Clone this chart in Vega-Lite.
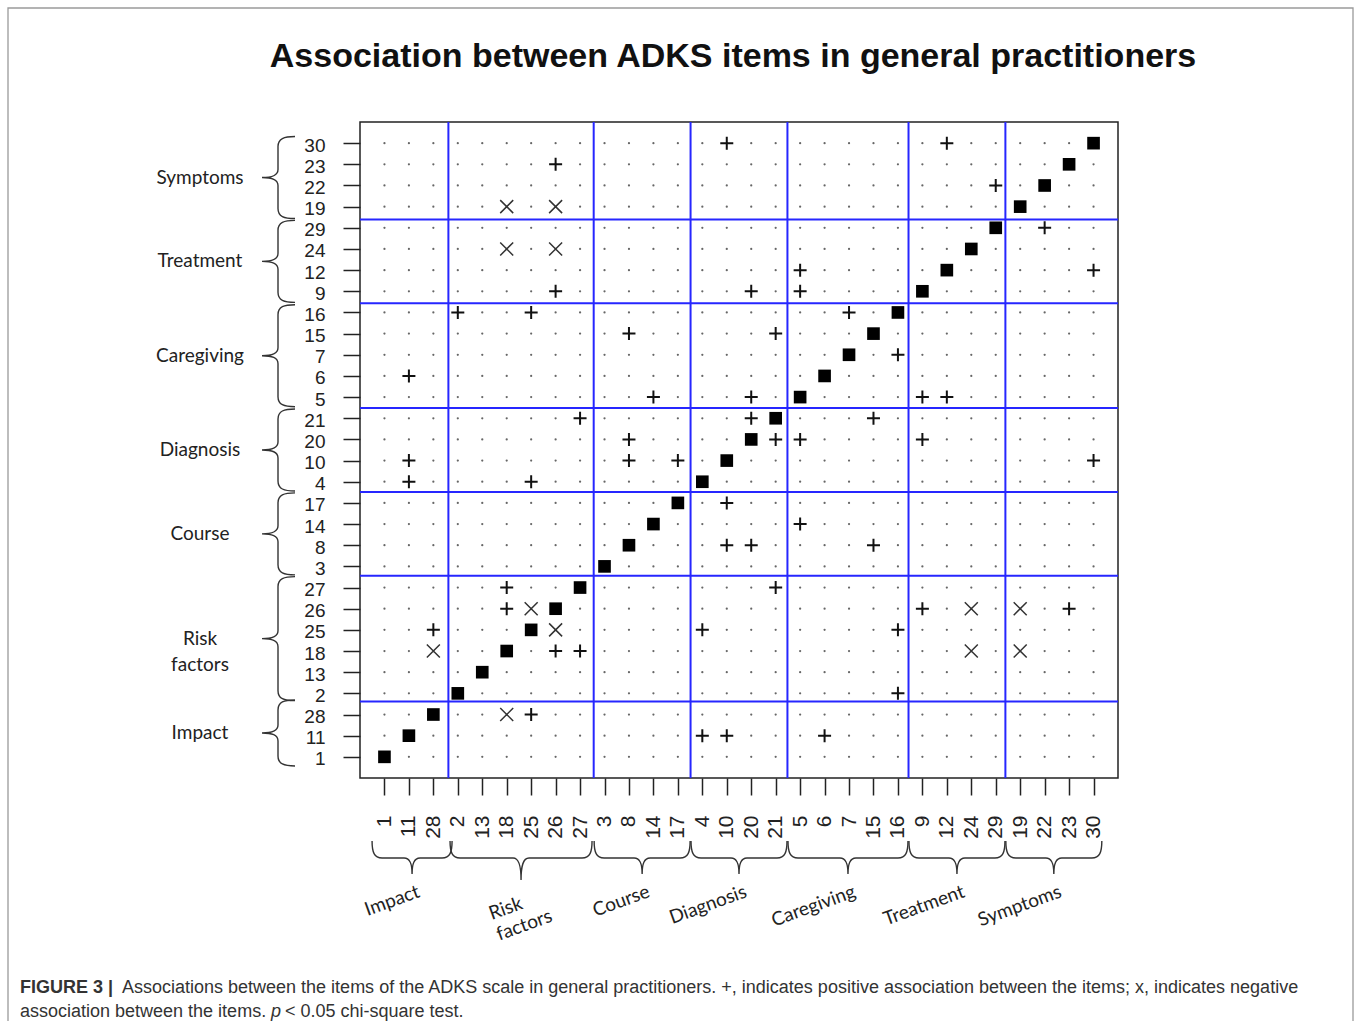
{
"$schema": "https://vega.github.io/schema/vega-lite/v6.json",
"width": 758,
"height": 656,
"autosize": {"type": "none"},
"padding": {"left": 360, "top": 122, "right": 237, "bottom": 243},
"background": "white",
"config": {"view": {"stroke": "#222", "strokeWidth": 1.5}, "axis": {"labelBound": false, "labelFlush": false}},
"datasets": {
"groups": [
{"g": "Impact", "lo": 0.5, "mid": 2},
{"g": "Risk factors", "lo": 3.5, "mid": 6.5},
{"g": "Course", "lo": 9.5, "mid": 11.5},
{"g": "Diagnosis", "lo": 13.5, "mid": 15.5},
{"g": "Caregiving", "lo": 17.5, "mid": 20},
{"g": "Treatment", "lo": 22.5, "mid": 24.5},
{"g": "Symptoms", "lo": 26.5, "mid": 28.5}
],
"marks": [
{"r":1,"c":1,"t":"d"},{"r":2,"c":2,"t":"d"},{"r":3,"c":3,"t":"d"},{"r":4,"c":4,"t":"d"},{"r":5,"c":5,"t":"d"},{"r":6,"c":6,"t":"d"},{"r":7,"c":7,"t":"d"},{"r":8,"c":8,"t":"d"},{"r":9,"c":9,"t":"d"},{"r":10,"c":10,"t":"d"},
{"r":11,"c":11,"t":"d"},{"r":12,"c":12,"t":"d"},{"r":13,"c":13,"t":"d"},{"r":14,"c":14,"t":"d"},{"r":15,"c":15,"t":"d"},{"r":16,"c":16,"t":"d"},{"r":17,"c":17,"t":"d"},{"r":18,"c":18,"t":"d"},{"r":19,"c":19,"t":"d"},{"r":20,"c":20,"t":"d"},
{"r":21,"c":21,"t":"d"},{"r":22,"c":22,"t":"d"},{"r":23,"c":23,"t":"d"},{"r":24,"c":24,"t":"d"},{"r":25,"c":25,"t":"d"},{"r":26,"c":26,"t":"d"},{"r":27,"c":27,"t":"d"},{"r":28,"c":28,"t":"d"},{"r":29,"c":29,"t":"d"},{"r":30,"c":30,"t":"d"},
{"r":30,"c":10,"t":"p"},{"r":30,"c":12,"t":"p"},
{"r":23,"c":26,"t":"p"},
{"r":22,"c":29,"t":"p"},
{"r":19,"c":18,"t":"n"},{"r":19,"c":26,"t":"n"},
{"r":29,"c":22,"t":"p"},
{"r":24,"c":18,"t":"n"},{"r":24,"c":26,"t":"n"},
{"r":12,"c":5,"t":"p"},{"r":12,"c":30,"t":"p"},
{"r":9,"c":26,"t":"p"},{"r":9,"c":20,"t":"p"},{"r":9,"c":5,"t":"p"},
{"r":16,"c":2,"t":"p"},{"r":16,"c":25,"t":"p"},{"r":16,"c":7,"t":"p"},
{"r":15,"c":8,"t":"p"},{"r":15,"c":21,"t":"p"},
{"r":7,"c":16,"t":"p"},
{"r":6,"c":11,"t":"p"},
{"r":5,"c":14,"t":"p"},{"r":5,"c":20,"t":"p"},{"r":5,"c":9,"t":"p"},{"r":5,"c":12,"t":"p"},
{"r":21,"c":27,"t":"p"},{"r":21,"c":20,"t":"p"},{"r":21,"c":15,"t":"p"},
{"r":20,"c":8,"t":"p"},{"r":20,"c":21,"t":"p"},{"r":20,"c":5,"t":"p"},{"r":20,"c":9,"t":"p"},
{"r":10,"c":11,"t":"p"},{"r":10,"c":8,"t":"p"},{"r":10,"c":17,"t":"p"},{"r":10,"c":30,"t":"p"},
{"r":4,"c":11,"t":"p"},{"r":4,"c":25,"t":"p"},
{"r":17,"c":10,"t":"p"},
{"r":14,"c":5,"t":"p"},
{"r":8,"c":10,"t":"p"},{"r":8,"c":20,"t":"p"},{"r":8,"c":15,"t":"p"},
{"r":27,"c":18,"t":"p"},{"r":27,"c":21,"t":"p"},
{"r":26,"c":18,"t":"p"},{"r":26,"c":25,"t":"n"},{"r":26,"c":9,"t":"p"},{"r":26,"c":24,"t":"n"},{"r":26,"c":19,"t":"n"},{"r":26,"c":23,"t":"p"},
{"r":25,"c":28,"t":"p"},{"r":25,"c":26,"t":"n"},{"r":25,"c":4,"t":"p"},{"r":25,"c":16,"t":"p"},
{"r":18,"c":28,"t":"n"},{"r":18,"c":26,"t":"p"},{"r":18,"c":27,"t":"p"},{"r":18,"c":24,"t":"n"},{"r":18,"c":19,"t":"n"},
{"r":2,"c":16,"t":"p"},
{"r":28,"c":18,"t":"n"},{"r":28,"c":25,"t":"p"},
{"r":11,"c":4,"t":"p"},{"r":11,"c":10,"t":"p"},{"r":11,"c":6,"t":"p"}
],
"cells": [
{"r":30,"c":1},{"r":30,"c":11},{"r":30,"c":28},{"r":30,"c":2},{"r":30,"c":13},{"r":30,"c":18},{"r":30,"c":25},{"r":30,"c":26},{"r":30,"c":27},{"r":30,"c":3},{"r":30,"c":8},{"r":30,"c":14},{"r":30,"c":17},{"r":30,"c":4},{"r":30,"c":10},{"r":30,"c":20},{"r":30,"c":21},{"r":30,"c":5},{"r":30,"c":6},{"r":30,"c":7},{"r":30,"c":15},{"r":30,"c":16},{"r":30,"c":9},{"r":30,"c":12},{"r":30,"c":24},{"r":30,"c":29},{"r":30,"c":19},{"r":30,"c":22},{"r":30,"c":23},{"r":30,"c":30},
{"r":23,"c":1},{"r":23,"c":11},{"r":23,"c":28},{"r":23,"c":2},{"r":23,"c":13},{"r":23,"c":18},{"r":23,"c":25},{"r":23,"c":26},{"r":23,"c":27},{"r":23,"c":3},{"r":23,"c":8},{"r":23,"c":14},{"r":23,"c":17},{"r":23,"c":4},{"r":23,"c":10},{"r":23,"c":20},{"r":23,"c":21},{"r":23,"c":5},{"r":23,"c":6},{"r":23,"c":7},{"r":23,"c":15},{"r":23,"c":16},{"r":23,"c":9},{"r":23,"c":12},{"r":23,"c":24},{"r":23,"c":29},{"r":23,"c":19},{"r":23,"c":22},{"r":23,"c":23},{"r":23,"c":30},
{"r":22,"c":1},{"r":22,"c":11},{"r":22,"c":28},{"r":22,"c":2},{"r":22,"c":13},{"r":22,"c":18},{"r":22,"c":25},{"r":22,"c":26},{"r":22,"c":27},{"r":22,"c":3},{"r":22,"c":8},{"r":22,"c":14},{"r":22,"c":17},{"r":22,"c":4},{"r":22,"c":10},{"r":22,"c":20},{"r":22,"c":21},{"r":22,"c":5},{"r":22,"c":6},{"r":22,"c":7},{"r":22,"c":15},{"r":22,"c":16},{"r":22,"c":9},{"r":22,"c":12},{"r":22,"c":24},{"r":22,"c":29},{"r":22,"c":19},{"r":22,"c":22},{"r":22,"c":23},{"r":22,"c":30},
{"r":19,"c":1},{"r":19,"c":11},{"r":19,"c":28},{"r":19,"c":2},{"r":19,"c":13},{"r":19,"c":18},{"r":19,"c":25},{"r":19,"c":26},{"r":19,"c":27},{"r":19,"c":3},{"r":19,"c":8},{"r":19,"c":14},{"r":19,"c":17},{"r":19,"c":4},{"r":19,"c":10},{"r":19,"c":20},{"r":19,"c":21},{"r":19,"c":5},{"r":19,"c":6},{"r":19,"c":7},{"r":19,"c":15},{"r":19,"c":16},{"r":19,"c":9},{"r":19,"c":12},{"r":19,"c":24},{"r":19,"c":29},{"r":19,"c":19},{"r":19,"c":22},{"r":19,"c":23},{"r":19,"c":30},
{"r":29,"c":1},{"r":29,"c":11},{"r":29,"c":28},{"r":29,"c":2},{"r":29,"c":13},{"r":29,"c":18},{"r":29,"c":25},{"r":29,"c":26},{"r":29,"c":27},{"r":29,"c":3},{"r":29,"c":8},{"r":29,"c":14},{"r":29,"c":17},{"r":29,"c":4},{"r":29,"c":10},{"r":29,"c":20},{"r":29,"c":21},{"r":29,"c":5},{"r":29,"c":6},{"r":29,"c":7},{"r":29,"c":15},{"r":29,"c":16},{"r":29,"c":9},{"r":29,"c":12},{"r":29,"c":24},{"r":29,"c":29},{"r":29,"c":19},{"r":29,"c":22},{"r":29,"c":23},{"r":29,"c":30},
{"r":24,"c":1},{"r":24,"c":11},{"r":24,"c":28},{"r":24,"c":2},{"r":24,"c":13},{"r":24,"c":18},{"r":24,"c":25},{"r":24,"c":26},{"r":24,"c":27},{"r":24,"c":3},{"r":24,"c":8},{"r":24,"c":14},{"r":24,"c":17},{"r":24,"c":4},{"r":24,"c":10},{"r":24,"c":20},{"r":24,"c":21},{"r":24,"c":5},{"r":24,"c":6},{"r":24,"c":7},{"r":24,"c":15},{"r":24,"c":16},{"r":24,"c":9},{"r":24,"c":12},{"r":24,"c":24},{"r":24,"c":29},{"r":24,"c":19},{"r":24,"c":22},{"r":24,"c":23},{"r":24,"c":30},
{"r":12,"c":1},{"r":12,"c":11},{"r":12,"c":28},{"r":12,"c":2},{"r":12,"c":13},{"r":12,"c":18},{"r":12,"c":25},{"r":12,"c":26},{"r":12,"c":27},{"r":12,"c":3},{"r":12,"c":8},{"r":12,"c":14},{"r":12,"c":17},{"r":12,"c":4},{"r":12,"c":10},{"r":12,"c":20},{"r":12,"c":21},{"r":12,"c":5},{"r":12,"c":6},{"r":12,"c":7},{"r":12,"c":15},{"r":12,"c":16},{"r":12,"c":9},{"r":12,"c":12},{"r":12,"c":24},{"r":12,"c":29},{"r":12,"c":19},{"r":12,"c":22},{"r":12,"c":23},{"r":12,"c":30},
{"r":9,"c":1},{"r":9,"c":11},{"r":9,"c":28},{"r":9,"c":2},{"r":9,"c":13},{"r":9,"c":18},{"r":9,"c":25},{"r":9,"c":26},{"r":9,"c":27},{"r":9,"c":3},{"r":9,"c":8},{"r":9,"c":14},{"r":9,"c":17},{"r":9,"c":4},{"r":9,"c":10},{"r":9,"c":20},{"r":9,"c":21},{"r":9,"c":5},{"r":9,"c":6},{"r":9,"c":7},{"r":9,"c":15},{"r":9,"c":16},{"r":9,"c":9},{"r":9,"c":12},{"r":9,"c":24},{"r":9,"c":29},{"r":9,"c":19},{"r":9,"c":22},{"r":9,"c":23},{"r":9,"c":30},
{"r":16,"c":1},{"r":16,"c":11},{"r":16,"c":28},{"r":16,"c":2},{"r":16,"c":13},{"r":16,"c":18},{"r":16,"c":25},{"r":16,"c":26},{"r":16,"c":27},{"r":16,"c":3},{"r":16,"c":8},{"r":16,"c":14},{"r":16,"c":17},{"r":16,"c":4},{"r":16,"c":10},{"r":16,"c":20},{"r":16,"c":21},{"r":16,"c":5},{"r":16,"c":6},{"r":16,"c":7},{"r":16,"c":15},{"r":16,"c":16},{"r":16,"c":9},{"r":16,"c":12},{"r":16,"c":24},{"r":16,"c":29},{"r":16,"c":19},{"r":16,"c":22},{"r":16,"c":23},{"r":16,"c":30},
{"r":15,"c":1},{"r":15,"c":11},{"r":15,"c":28},{"r":15,"c":2},{"r":15,"c":13},{"r":15,"c":18},{"r":15,"c":25},{"r":15,"c":26},{"r":15,"c":27},{"r":15,"c":3},{"r":15,"c":8},{"r":15,"c":14},{"r":15,"c":17},{"r":15,"c":4},{"r":15,"c":10},{"r":15,"c":20},{"r":15,"c":21},{"r":15,"c":5},{"r":15,"c":6},{"r":15,"c":7},{"r":15,"c":15},{"r":15,"c":16},{"r":15,"c":9},{"r":15,"c":12},{"r":15,"c":24},{"r":15,"c":29},{"r":15,"c":19},{"r":15,"c":22},{"r":15,"c":23},{"r":15,"c":30},
{"r":7,"c":1},{"r":7,"c":11},{"r":7,"c":28},{"r":7,"c":2},{"r":7,"c":13},{"r":7,"c":18},{"r":7,"c":25},{"r":7,"c":26},{"r":7,"c":27},{"r":7,"c":3},{"r":7,"c":8},{"r":7,"c":14},{"r":7,"c":17},{"r":7,"c":4},{"r":7,"c":10},{"r":7,"c":20},{"r":7,"c":21},{"r":7,"c":5},{"r":7,"c":6},{"r":7,"c":7},{"r":7,"c":15},{"r":7,"c":16},{"r":7,"c":9},{"r":7,"c":12},{"r":7,"c":24},{"r":7,"c":29},{"r":7,"c":19},{"r":7,"c":22},{"r":7,"c":23},{"r":7,"c":30},
{"r":6,"c":1},{"r":6,"c":11},{"r":6,"c":28},{"r":6,"c":2},{"r":6,"c":13},{"r":6,"c":18},{"r":6,"c":25},{"r":6,"c":26},{"r":6,"c":27},{"r":6,"c":3},{"r":6,"c":8},{"r":6,"c":14},{"r":6,"c":17},{"r":6,"c":4},{"r":6,"c":10},{"r":6,"c":20},{"r":6,"c":21},{"r":6,"c":5},{"r":6,"c":6},{"r":6,"c":7},{"r":6,"c":15},{"r":6,"c":16},{"r":6,"c":9},{"r":6,"c":12},{"r":6,"c":24},{"r":6,"c":29},{"r":6,"c":19},{"r":6,"c":22},{"r":6,"c":23},{"r":6,"c":30},
{"r":5,"c":1},{"r":5,"c":11},{"r":5,"c":28},{"r":5,"c":2},{"r":5,"c":13},{"r":5,"c":18},{"r":5,"c":25},{"r":5,"c":26},{"r":5,"c":27},{"r":5,"c":3},{"r":5,"c":8},{"r":5,"c":14},{"r":5,"c":17},{"r":5,"c":4},{"r":5,"c":10},{"r":5,"c":20},{"r":5,"c":21},{"r":5,"c":5},{"r":5,"c":6},{"r":5,"c":7},{"r":5,"c":15},{"r":5,"c":16},{"r":5,"c":9},{"r":5,"c":12},{"r":5,"c":24},{"r":5,"c":29},{"r":5,"c":19},{"r":5,"c":22},{"r":5,"c":23},{"r":5,"c":30},
{"r":21,"c":1},{"r":21,"c":11},{"r":21,"c":28},{"r":21,"c":2},{"r":21,"c":13},{"r":21,"c":18},{"r":21,"c":25},{"r":21,"c":26},{"r":21,"c":27},{"r":21,"c":3},{"r":21,"c":8},{"r":21,"c":14},{"r":21,"c":17},{"r":21,"c":4},{"r":21,"c":10},{"r":21,"c":20},{"r":21,"c":21},{"r":21,"c":5},{"r":21,"c":6},{"r":21,"c":7},{"r":21,"c":15},{"r":21,"c":16},{"r":21,"c":9},{"r":21,"c":12},{"r":21,"c":24},{"r":21,"c":29},{"r":21,"c":19},{"r":21,"c":22},{"r":21,"c":23},{"r":21,"c":30},
{"r":20,"c":1},{"r":20,"c":11},{"r":20,"c":28},{"r":20,"c":2},{"r":20,"c":13},{"r":20,"c":18},{"r":20,"c":25},{"r":20,"c":26},{"r":20,"c":27},{"r":20,"c":3},{"r":20,"c":8},{"r":20,"c":14},{"r":20,"c":17},{"r":20,"c":4},{"r":20,"c":10},{"r":20,"c":20},{"r":20,"c":21},{"r":20,"c":5},{"r":20,"c":6},{"r":20,"c":7},{"r":20,"c":15},{"r":20,"c":16},{"r":20,"c":9},{"r":20,"c":12},{"r":20,"c":24},{"r":20,"c":29},{"r":20,"c":19},{"r":20,"c":22},{"r":20,"c":23},{"r":20,"c":30},
{"r":10,"c":1},{"r":10,"c":11},{"r":10,"c":28},{"r":10,"c":2},{"r":10,"c":13},{"r":10,"c":18},{"r":10,"c":25},{"r":10,"c":26},{"r":10,"c":27},{"r":10,"c":3},{"r":10,"c":8},{"r":10,"c":14},{"r":10,"c":17},{"r":10,"c":4},{"r":10,"c":10},{"r":10,"c":20},{"r":10,"c":21},{"r":10,"c":5},{"r":10,"c":6},{"r":10,"c":7},{"r":10,"c":15},{"r":10,"c":16},{"r":10,"c":9},{"r":10,"c":12},{"r":10,"c":24},{"r":10,"c":29},{"r":10,"c":19},{"r":10,"c":22},{"r":10,"c":23},{"r":10,"c":30},
{"r":4,"c":1},{"r":4,"c":11},{"r":4,"c":28},{"r":4,"c":2},{"r":4,"c":13},{"r":4,"c":18},{"r":4,"c":25},{"r":4,"c":26},{"r":4,"c":27},{"r":4,"c":3},{"r":4,"c":8},{"r":4,"c":14},{"r":4,"c":17},{"r":4,"c":4},{"r":4,"c":10},{"r":4,"c":20},{"r":4,"c":21},{"r":4,"c":5},{"r":4,"c":6},{"r":4,"c":7},{"r":4,"c":15},{"r":4,"c":16},{"r":4,"c":9},{"r":4,"c":12},{"r":4,"c":24},{"r":4,"c":29},{"r":4,"c":19},{"r":4,"c":22},{"r":4,"c":23},{"r":4,"c":30},
{"r":17,"c":1},{"r":17,"c":11},{"r":17,"c":28},{"r":17,"c":2},{"r":17,"c":13},{"r":17,"c":18},{"r":17,"c":25},{"r":17,"c":26},{"r":17,"c":27},{"r":17,"c":3},{"r":17,"c":8},{"r":17,"c":14},{"r":17,"c":17},{"r":17,"c":4},{"r":17,"c":10},{"r":17,"c":20},{"r":17,"c":21},{"r":17,"c":5},{"r":17,"c":6},{"r":17,"c":7},{"r":17,"c":15},{"r":17,"c":16},{"r":17,"c":9},{"r":17,"c":12},{"r":17,"c":24},{"r":17,"c":29},{"r":17,"c":19},{"r":17,"c":22},{"r":17,"c":23},{"r":17,"c":30},
{"r":14,"c":1},{"r":14,"c":11},{"r":14,"c":28},{"r":14,"c":2},{"r":14,"c":13},{"r":14,"c":18},{"r":14,"c":25},{"r":14,"c":26},{"r":14,"c":27},{"r":14,"c":3},{"r":14,"c":8},{"r":14,"c":14},{"r":14,"c":17},{"r":14,"c":4},{"r":14,"c":10},{"r":14,"c":20},{"r":14,"c":21},{"r":14,"c":5},{"r":14,"c":6},{"r":14,"c":7},{"r":14,"c":15},{"r":14,"c":16},{"r":14,"c":9},{"r":14,"c":12},{"r":14,"c":24},{"r":14,"c":29},{"r":14,"c":19},{"r":14,"c":22},{"r":14,"c":23},{"r":14,"c":30},
{"r":8,"c":1},{"r":8,"c":11},{"r":8,"c":28},{"r":8,"c":2},{"r":8,"c":13},{"r":8,"c":18},{"r":8,"c":25},{"r":8,"c":26},{"r":8,"c":27},{"r":8,"c":3},{"r":8,"c":8},{"r":8,"c":14},{"r":8,"c":17},{"r":8,"c":4},{"r":8,"c":10},{"r":8,"c":20},{"r":8,"c":21},{"r":8,"c":5},{"r":8,"c":6},{"r":8,"c":7},{"r":8,"c":15},{"r":8,"c":16},{"r":8,"c":9},{"r":8,"c":12},{"r":8,"c":24},{"r":8,"c":29},{"r":8,"c":19},{"r":8,"c":22},{"r":8,"c":23},{"r":8,"c":30},
{"r":3,"c":1},{"r":3,"c":11},{"r":3,"c":28},{"r":3,"c":2},{"r":3,"c":13},{"r":3,"c":18},{"r":3,"c":25},{"r":3,"c":26},{"r":3,"c":27},{"r":3,"c":3},{"r":3,"c":8},{"r":3,"c":14},{"r":3,"c":17},{"r":3,"c":4},{"r":3,"c":10},{"r":3,"c":20},{"r":3,"c":21},{"r":3,"c":5},{"r":3,"c":6},{"r":3,"c":7},{"r":3,"c":15},{"r":3,"c":16},{"r":3,"c":9},{"r":3,"c":12},{"r":3,"c":24},{"r":3,"c":29},{"r":3,"c":19},{"r":3,"c":22},{"r":3,"c":23},{"r":3,"c":30},
{"r":27,"c":1},{"r":27,"c":11},{"r":27,"c":28},{"r":27,"c":2},{"r":27,"c":13},{"r":27,"c":18},{"r":27,"c":25},{"r":27,"c":26},{"r":27,"c":27},{"r":27,"c":3},{"r":27,"c":8},{"r":27,"c":14},{"r":27,"c":17},{"r":27,"c":4},{"r":27,"c":10},{"r":27,"c":20},{"r":27,"c":21},{"r":27,"c":5},{"r":27,"c":6},{"r":27,"c":7},{"r":27,"c":15},{"r":27,"c":16},{"r":27,"c":9},{"r":27,"c":12},{"r":27,"c":24},{"r":27,"c":29},{"r":27,"c":19},{"r":27,"c":22},{"r":27,"c":23},{"r":27,"c":30},
{"r":26,"c":1},{"r":26,"c":11},{"r":26,"c":28},{"r":26,"c":2},{"r":26,"c":13},{"r":26,"c":18},{"r":26,"c":25},{"r":26,"c":26},{"r":26,"c":27},{"r":26,"c":3},{"r":26,"c":8},{"r":26,"c":14},{"r":26,"c":17},{"r":26,"c":4},{"r":26,"c":10},{"r":26,"c":20},{"r":26,"c":21},{"r":26,"c":5},{"r":26,"c":6},{"r":26,"c":7},{"r":26,"c":15},{"r":26,"c":16},{"r":26,"c":9},{"r":26,"c":12},{"r":26,"c":24},{"r":26,"c":29},{"r":26,"c":19},{"r":26,"c":22},{"r":26,"c":23},{"r":26,"c":30},
{"r":25,"c":1},{"r":25,"c":11},{"r":25,"c":28},{"r":25,"c":2},{"r":25,"c":13},{"r":25,"c":18},{"r":25,"c":25},{"r":25,"c":26},{"r":25,"c":27},{"r":25,"c":3},{"r":25,"c":8},{"r":25,"c":14},{"r":25,"c":17},{"r":25,"c":4},{"r":25,"c":10},{"r":25,"c":20},{"r":25,"c":21},{"r":25,"c":5},{"r":25,"c":6},{"r":25,"c":7},{"r":25,"c":15},{"r":25,"c":16},{"r":25,"c":9},{"r":25,"c":12},{"r":25,"c":24},{"r":25,"c":29},{"r":25,"c":19},{"r":25,"c":22},{"r":25,"c":23},{"r":25,"c":30},
{"r":18,"c":1},{"r":18,"c":11},{"r":18,"c":28},{"r":18,"c":2},{"r":18,"c":13},{"r":18,"c":18},{"r":18,"c":25},{"r":18,"c":26},{"r":18,"c":27},{"r":18,"c":3},{"r":18,"c":8},{"r":18,"c":14},{"r":18,"c":17},{"r":18,"c":4},{"r":18,"c":10},{"r":18,"c":20},{"r":18,"c":21},{"r":18,"c":5},{"r":18,"c":6},{"r":18,"c":7},{"r":18,"c":15},{"r":18,"c":16},{"r":18,"c":9},{"r":18,"c":12},{"r":18,"c":24},{"r":18,"c":29},{"r":18,"c":19},{"r":18,"c":22},{"r":18,"c":23},{"r":18,"c":30},
{"r":13,"c":1},{"r":13,"c":11},{"r":13,"c":28},{"r":13,"c":2},{"r":13,"c":13},{"r":13,"c":18},{"r":13,"c":25},{"r":13,"c":26},{"r":13,"c":27},{"r":13,"c":3},{"r":13,"c":8},{"r":13,"c":14},{"r":13,"c":17},{"r":13,"c":4},{"r":13,"c":10},{"r":13,"c":20},{"r":13,"c":21},{"r":13,"c":5},{"r":13,"c":6},{"r":13,"c":7},{"r":13,"c":15},{"r":13,"c":16},{"r":13,"c":9},{"r":13,"c":12},{"r":13,"c":24},{"r":13,"c":29},{"r":13,"c":19},{"r":13,"c":22},{"r":13,"c":23},{"r":13,"c":30},
{"r":2,"c":1},{"r":2,"c":11},{"r":2,"c":28},{"r":2,"c":2},{"r":2,"c":13},{"r":2,"c":18},{"r":2,"c":25},{"r":2,"c":26},{"r":2,"c":27},{"r":2,"c":3},{"r":2,"c":8},{"r":2,"c":14},{"r":2,"c":17},{"r":2,"c":4},{"r":2,"c":10},{"r":2,"c":20},{"r":2,"c":21},{"r":2,"c":5},{"r":2,"c":6},{"r":2,"c":7},{"r":2,"c":15},{"r":2,"c":16},{"r":2,"c":9},{"r":2,"c":12},{"r":2,"c":24},{"r":2,"c":29},{"r":2,"c":19},{"r":2,"c":22},{"r":2,"c":23},{"r":2,"c":30},
{"r":28,"c":1},{"r":28,"c":11},{"r":28,"c":28},{"r":28,"c":2},{"r":28,"c":13},{"r":28,"c":18},{"r":28,"c":25},{"r":28,"c":26},{"r":28,"c":27},{"r":28,"c":3},{"r":28,"c":8},{"r":28,"c":14},{"r":28,"c":17},{"r":28,"c":4},{"r":28,"c":10},{"r":28,"c":20},{"r":28,"c":21},{"r":28,"c":5},{"r":28,"c":6},{"r":28,"c":7},{"r":28,"c":15},{"r":28,"c":16},{"r":28,"c":9},{"r":28,"c":12},{"r":28,"c":24},{"r":28,"c":29},{"r":28,"c":19},{"r":28,"c":22},{"r":28,"c":23},{"r":28,"c":30},
{"r":11,"c":1},{"r":11,"c":11},{"r":11,"c":28},{"r":11,"c":2},{"r":11,"c":13},{"r":11,"c":18},{"r":11,"c":25},{"r":11,"c":26},{"r":11,"c":27},{"r":11,"c":3},{"r":11,"c":8},{"r":11,"c":14},{"r":11,"c":17},{"r":11,"c":4},{"r":11,"c":10},{"r":11,"c":20},{"r":11,"c":21},{"r":11,"c":5},{"r":11,"c":6},{"r":11,"c":7},{"r":11,"c":15},{"r":11,"c":16},{"r":11,"c":9},{"r":11,"c":12},{"r":11,"c":24},{"r":11,"c":29},{"r":11,"c":19},{"r":11,"c":22},{"r":11,"c":23},{"r":11,"c":30},
{"r":1,"c":1},{"r":1,"c":11},{"r":1,"c":28},{"r":1,"c":2},{"r":1,"c":13},{"r":1,"c":18},{"r":1,"c":25},{"r":1,"c":26},{"r":1,"c":27},{"r":1,"c":3},{"r":1,"c":8},{"r":1,"c":14},{"r":1,"c":17},{"r":1,"c":4},{"r":1,"c":10},{"r":1,"c":20},{"r":1,"c":21},{"r":1,"c":5},{"r":1,"c":6},{"r":1,"c":7},{"r":1,"c":15},{"r":1,"c":16},{"r":1,"c":9},{"r":1,"c":12},{"r":1,"c":24},{"r":1,"c":29},{"r":1,"c":19},{"r":1,"c":22},{"r":1,"c":23},{"r":1,"c":30}
]
},
"layer": [
{
"encoding": {
"x": {"field": "c", "type": "ordinal",
"scale": {"type": "point", "domain": [1,11,28,2,13,18,25,26,27,3,8,14,17,4,10,20,21,5,6,7,15,16,9,12,24,29,19,22,23,30], "padding": 1.15},
"axis": {"title": null, "labelAngle": 270, "labelFont": "Liberation Sans", "labelFontSize": 21, "labelColor": "#222", "labelPadding": 20, "labelOverlap": false, "tickSize": 17, "tickWidth": 1.5, "tickColor": "#222", "domain": false, "grid": false}},
"y": {"field": "r", "type": "ordinal",
"scale": {"type": "point", "domain": [30,23,22,19,29,24,12,9,16,15,7,6,5,21,20,10,4,17,14,8,3,27,26,25,18,13,2,28,11,1], "padding": 1.15},
"axis": {"title": null, "labelFont": "Liberation Sans", "labelFontSize": 19, "labelColor": "#222", "labelPadding": 18, "labelOverlap": false, "labelOffset": 2, "tickSize": 17, "tickWidth": 1.5, "tickColor": "#222", "domain": false, "grid": false}}
},
"layer": [
{"data": {"name": "cells"}, "mark": {"type": "circle", "size": 5, "color": "#666", "opacity": 1}},
{"data": {"name": "marks"}, "transform": [{"filter": "datum.t === 'd'"}], "mark": {"type": "square", "size": 160, "color": "#000", "opacity": 1}},
{"data": {"name": "marks"}, "transform": [{"filter": "datum.t === 'p'"}], "mark": {"type": "point", "shape": "M-6.5,0L6.5,0M0,-6.5L0,6.5", "size": 4, "filled": false, "color": "#111", "strokeWidth": 2, "opacity": 1}},
{"data": {"name": "marks"}, "transform": [{"filter": "datum.t === 'n'"}], "mark": {"type": "point", "shape": "M-6.5,-6.5L6.5,6.5M-6.5,6.5L6.5,-6.5", "size": 4, "filled": false, "color": "#333", "strokeWidth": 1.5, "opacity": 1}}
]
},
{
"resolve": {"scale": {"shape": "independent"}},
"layer": [
{"data": {"values": [{}]}, "mark": {"type": "rect", "filled": false, "color": "#9a9a9a", "strokeWidth": 1.3},
"encoding": {
"x": {"datum": -14.685, "type": "quantitative", "scale": {"domain": [-0.15, 31.15], "nice": false, "zero": false}, "axis": null},
"x2": {"datum": 40.854},
"y": {"datum": 36.59, "type": "quantitative", "scale": {"domain": [-0.15, 31.15], "nice": false, "zero": false}, "axis": null},
"y2": {"datum": -12.65}}},
{"data": {"name": "groups"}, "transform": [{"filter": "datum.lo > 1"}], "mark": {"type": "rule", "color": "#2626ff", "strokeWidth": 2},
"encoding": {"x": {"field": "lo", "type": "quantitative", "scale": {"domain": [-0.15, 31.15], "nice": false, "zero": false}, "axis": null}}},
{"data": {"name": "groups"}, "transform": [{"filter": "datum.lo > 1"}], "mark": {"type": "rule", "color": "#2626ff", "strokeWidth": 2},
"encoding": {"y": {"field": "lo", "type": "quantitative", "scale": {"domain": [-0.15, 31.15], "nice": false, "zero": false}, "axis": null}}},
{"data": {"name": "groups"}, "mark": {"type": "point", "size": 4, "filled": false, "color": "#333", "strokeWidth": 1.4, "opacity": 1},
"encoding": {
"x": {"datum": -3.536, "type": "quantitative", "scale": {"domain": [-0.15, 31.15], "nice": false, "zero": false}, "axis": null},
"y": {"field": "mid", "type": "quantitative", "scale": {"domain": [-0.15, 31.15], "nice": false, "zero": false}, "axis": null},
"shape": {"field": "g", "type": "nominal", "legend": null, "scale": {
"domain": ["Impact", "Risk factors", "Course", "Diagnosis", "Caregiving", "Treatment", "Symptoms"],
"range": [
"M17,-33 C6,-33 0,-31 0,-23 L0,-8 C0,-2 -6,0 -16,0 C-6,0 0,2 0,8 L0,23 C0,31 6,33 17,33",
"M17,-62 C6,-62 0,-60 0,-52 L0,-8 C0,-2 -6,0 -16,0 C-6,0 0,2 0,8 L0,52 C0,60 6,62 17,62",
"M17,-41 C6,-41 0,-39 0,-31 L0,-8 C0,-2 -6,0 -16,0 C-6,0 0,2 0,8 L0,31 C0,39 6,41 17,41",
"M17,-41 C6,-41 0,-39 0,-31 L0,-8 C0,-2 -6,0 -16,0 C-6,0 0,2 0,8 L0,31 C0,39 6,41 17,41",
"M17,-51 C6,-51 0,-49 0,-41 L0,-8 C0,-2 -6,0 -16,0 C-6,0 0,2 0,8 L0,41 C0,49 6,51 17,51",
"M17,-41 C6,-41 0,-39 0,-31 L0,-8 C0,-2 -6,0 -16,0 C-6,0 0,2 0,8 L0,31 C0,39 6,41 17,41",
"M17,-41 C6,-41 0,-39 0,-31 L0,-8 C0,-2 -6,0 -16,0 C-6,0 0,2 0,8 L0,31 C0,39 6,41 17,41"
]}}}},
{"data": {"name": "groups"}, "mark": {"type": "point", "size": 4, "filled": false, "color": "#333", "strokeWidth": 1.4, "opacity": 1},
"encoding": {
"x": {"field": "mid", "type": "quantitative", "scale": {"domain": [-0.15, 31.15], "nice": false, "zero": false}, "axis": null},
"y": {"datum": -3.967, "type": "quantitative", "scale": {"domain": [-0.15, 31.15], "nice": false, "zero": false}, "axis": null},
"shape": {"field": "g", "type": "nominal", "legend": null, "scale": {
"domain": ["Impact", "Risk factors", "Course", "Diagnosis", "Caregiving", "Treatment", "Symptoms"],
"range": [
"M-40,-17 C-40,-6 -38,0 -30,0 L-8,0 C-2,0 0,6 0,16 C0,6 2,0 8,0 L30,0 C38,0 40,-6 40,-17",
"M-71,-17 C-71,-6 -69,0 -61,0 L-8,0 C-2,0 0,8 0,22 C0,8 2,0 8,0 L61,0 C69,0 71,-6 71,-17",
"M-48,-17 C-48,-6 -46,0 -38,0 L-8,0 C-2,0 0,6 0,16 C0,6 2,0 8,0 L38,0 C46,0 48,-6 48,-17",
"M-48,-17 C-48,-6 -46,0 -38,0 L-8,0 C-2,0 0,6 0,16 C0,6 2,0 8,0 L38,0 C46,0 48,-6 48,-17",
"M-60,-17 C-60,-6 -58,0 -50,0 L-8,0 C-2,0 0,6 0,16 C0,6 2,0 8,0 L50,0 C58,0 60,-6 60,-17",
"M-48,-17 C-48,-6 -46,0 -38,0 L-8,0 C-2,0 0,6 0,16 C0,6 2,0 8,0 L38,0 C46,0 48,-6 48,-17",
"M-48,-17 C-48,-6 -46,0 -38,0 L-8,0 C-2,0 0,6 0,16 C0,6 2,0 8,0 L38,0 C46,0 48,-6 48,-17"
]}}}},
{"data": {"name": "groups"}, "mark": {"type": "text", "font": "Lato", "fontSize": 19, "color": "#222", "align": "center", "baseline": "middle", "lineBreak": " ", "lineHeight": 26},
"encoding": {
"x": {"datum": -6.757, "type": "quantitative", "scale": {"domain": [-0.15, 31.15], "nice": false, "zero": false}, "axis": null},
"y": {"field": "mid", "type": "quantitative", "scale": {"domain": [-0.15, 31.15], "nice": false, "zero": false}, "axis": null},
"text": {"field": "g"}}},
{"data": {"name": "groups"}, "transform": [{"filter": "datum.g !== 'Risk factors'"}], "mark": {"type": "text", "font": "Lato", "fontSize": 19, "color": "#222", "align": "right", "baseline": "top", "angle": 340, "dx": 4},
"encoding": {
"x": {"field": "mid", "type": "quantitative", "scale": {"domain": [-0.15, 31.15], "nice": false, "zero": false}, "axis": null},
"y": {"datum": -5.2, "type": "quantitative", "scale": {"domain": [-0.15, 31.15], "nice": false, "zero": false}, "axis": null},
"text": {"field": "g"}}},
{"data": {"name": "groups"}, "transform": [{"filter": "datum.g === 'Risk factors'"}], "mark": {"type": "text", "font": "Lato", "fontSize": 19, "color": "#222", "align": "left", "baseline": "top", "angle": 340, "dx": -40, "dy": 9, "lineBreak": " ", "lineHeight": 22},
"encoding": {
"x": {"field": "mid", "type": "quantitative", "scale": {"domain": [-0.15, 31.15], "nice": false, "zero": false}, "axis": null},
"y": {"datum": -5.2, "type": "quantitative", "scale": {"domain": [-0.15, 31.15], "nice": false, "zero": false}, "axis": null},
"text": {"field": "g"}}},
{"data": {"values": [{}]}, "mark": {"type": "text", "font": "Liberation Sans", "fontSize": 34, "fontWeight": "bold", "color": "#111", "align": "center", "baseline": "alphabetic"},
"encoding": {
"x": {"datum": 15.252, "type": "quantitative", "scale": {"domain": [-0.15, 31.15], "nice": false, "zero": false}, "axis": null},
"y": {"datum": 33.79, "type": "quantitative", "scale": {"domain": [-0.15, 31.15], "nice": false, "zero": false}, "axis": null},
"text": {"value": "Association between ADKS items in general practitioners"}}},
{"data": {"values": [{}]}, "mark": {"type": "text", "font": "Liberation Sans", "fontSize": 18, "fontWeight": "bold", "color": "#333", "align": "left", "baseline": "alphabetic"},
"encoding": {
"x": {"datum": -14.19, "type": "quantitative", "scale": {"domain": [-0.15, 31.15], "nice": false, "zero": false}, "axis": null},
"y": {"datum": -10.41, "type": "quantitative", "scale": {"domain": [-0.15, 31.15], "nice": false, "zero": false}, "axis": null},
"text": {"value": "FIGURE 3 |"}}},
{"data": {"values": [{}]}, "mark": {"type": "text", "font": "Liberation Sans", "fontSize": 18, "color": "#333", "align": "left", "baseline": "alphabetic"},
"encoding": {
"x": {"datum": -9.978, "type": "quantitative", "scale": {"domain": [-0.15, 31.15], "nice": false, "zero": false}, "axis": null},
"y": {"datum": -10.41, "type": "quantitative", "scale": {"domain": [-0.15, 31.15], "nice": false, "zero": false}, "axis": null},
"text": {"value": "Associations between the items of the ADKS scale in general practitioners. +, indicates positive association between the items; x, indicates negative"}}},
{"data": {"values": [{}]}, "mark": {"type": "text", "font": "Liberation Sans", "fontSize": 18, "color": "#333", "align": "left", "baseline": "alphabetic"},
"encoding": {
"x": {"datum": -14.19, "type": "quantitative", "scale": {"domain": [-0.15, 31.15], "nice": false, "zero": false}, "axis": null},
"y": {"datum": -11.55, "type": "quantitative", "scale": {"domain": [-0.15, 31.15], "nice": false, "zero": false}, "axis": null},
"text": {"value": "association between the items."}}},
{"data": {"values": [{}]}, "mark": {"type": "text", "font": "Liberation Sans", "fontSize": 18, "fontStyle": "italic", "color": "#333", "align": "left", "baseline": "alphabetic"},
"encoding": {
"x": {"datum": -3.825, "type": "quantitative", "scale": {"domain": [-0.15, 31.15], "nice": false, "zero": false}, "axis": null},
"y": {"datum": -11.55, "type": "quantitative", "scale": {"domain": [-0.15, 31.15], "nice": false, "zero": false}, "axis": null},
"text": {"value": "p"}}},
{"data": {"values": [{}]}, "mark": {"type": "text", "font": "Liberation Sans", "fontSize": 18, "color": "#333", "align": "left", "baseline": "alphabetic"},
"encoding": {
"x": {"datum": -3.25, "type": "quantitative", "scale": {"domain": [-0.15, 31.15], "nice": false, "zero": false}, "axis": null},
"y": {"datum": -11.55, "type": "quantitative", "scale": {"domain": [-0.15, 31.15], "nice": false, "zero": false}, "axis": null},
"text": {"value": "< 0.05 chi-square test."}}}
]
}
],
"resolve": {"scale": {"x": "independent", "y": "independent"}, "axis": {"x": "independent", "y": "independent"}}
}
